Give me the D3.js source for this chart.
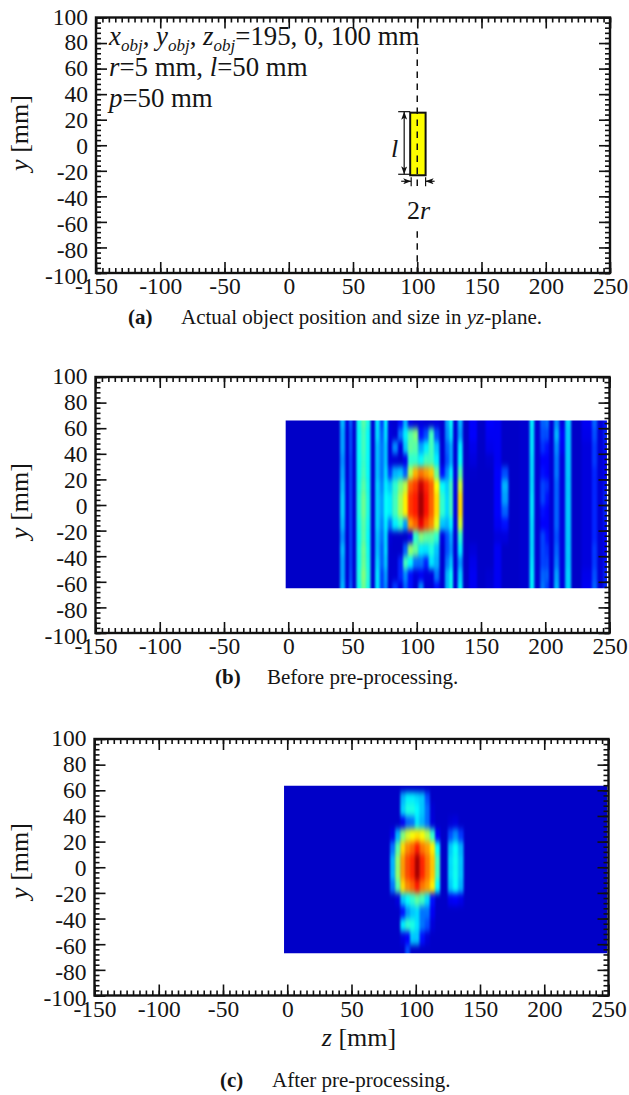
<!DOCTYPE html>
<html>
<head>
<meta charset="utf-8">
<script src="https://cdnjs.cloudflare.com/ajax/libs/d3/7.8.5/d3.min.js"></script>
<style>
  html, body { margin: 0; padding: 0; background: #fff; }
  svg { display: block; }
  text { font-family: "Liberation Serif", serif; fill: #151515; }
</style>
</head>
<body>
<svg id="chart" width="629" height="1095"></svg>
<script>
// axis values
const Z_DOMAIN = [-150, 250];
const Y_DOMAIN = [-100, 100];
const Z_MAJOR = d3.range(-150, 251, 50);
const Z_MINOR = d3.range(-150, 251, 5);
const Y_MAJOR = d3.range(-100, 101, 20);
const Y_MINOR = d3.range(-100, 101, 4);

// object in panel (a)
const OBJECT_Z = [94.5, 106.5];
const OBJECT_Y = [-23.5, 25.5];
const OBJECT_CENTER_Z = 100;

// heat map (b), one list per z column, top row first
const BEFORE_EXTENT_Z = [-2, 248];
const BEFORE_EXTENT_Y = [66, -65];
const BEFORE_ROWS = [65, 55, 45, 35, 25, 15, 5, -5, -15, -25, -35, -45, -55, -65];
const BEFORE_Z = [38, 42.5, 46.2, 48.5, 51.4, 54.7, 58.6, 62.5, 65.6, 69.5, 72.9, 76, 78.8, 83, 87.7, 91, 95, 99, 103.5, 107.2, 111.3, 115.5, 120, 123.9, 126.5, 130, 133.8, 137.7, 143.7, 150, 157, 163, 168.8, 174, 186, 189.6, 193.5, 198.7, 201.3, 204.6, 209, 213, 218, 222.4, 234, 238.6, 242.5, 247.8];
const BEFORE_VALUES = [
  [0, 0, 0, 0, 0, 0, 0, 0, 0, 0, 0, 0, 0, 0],
  [.3, .28, .28, .26, .28, .3, .32, .32, .3, .26, .3, .28, .28, .3],
  [.05, .03, .03, .03, .03, .05, .05, .05, .05, .03, .03, .03, .03, .05],
  [.22, .2, .2, .19, .19, .19, .19, .19, .19, .19, .19, .19, .2, .22],
  [.02, .02, .02, .02, .02, .02, .02, .02, .02, .02, .02, .02, .02, .02],
  [.39, .38, .38, .38, .38, .39, .4, .4, .39, .38, .39, .39, .4, .39],
  [.46, .44, .44, .43, .44, .46, .48, .48, .46, .46, .48, .48, .5, .48],
  [.4, .38, .38, .38, .38, .39, .4, .4, .39, .38, .39, .4, .41, .4],
  [.03, .03, .03, .03, .03, .03, .03, .03, .03, .03, .03, .03, .03, .03],
  [.35, .34, .31, .31, .31, .33, .33, .33, .33, .31, .31, .33, .35, .35],
  [.19, .22, .24, .24, .24, .26, .28, .28, .26, .24, .22, .22, .19, .19],
  [.37, .35, .32, .32, .34, .36, .38, .38, .36, .34, .34, .32, .28, .26],
  [.04, .05, .05, .05, .18, .32, .36, .36, .24, .04, .02, .02, .02, .02],
  [.02, .03, .26, .03, .3, .42, .44, .44, .36, .01, .01, .02, .03, .18],
  [.14, .24, .05, .01, .32, .5, .54, .54, .42, .01, .01, .16, .16, .06],
  [.3, .36, .32, .08, .22, .56, .64, .64, .28, 0, .22, .44, .26, .22],
  [.08, .46, .47, .42, .55, .78, .82, .82, .72, .1, .52, .37, .14, .14],
  [.03, .5, .46, .42, .7, .82, .85, .85, .78, .42, .48, .24, .05, .03],
  [.05, .14, .29, .38, .76, .95, 1, 1, .9, .5, .36, .24, .1, .26],
  [.03, .2, .36, .44, .72, .84, .86, .86, .8, .47, .35, .16, .05, .03],
  [.03, .44, .44, .44, .68, .78, .78, .78, .74, .46, .4, .35, .05, .03],
  [.05, .2, .32, .36, .48, .62, .66, .66, .6, .42, .32, .3, .24, .14],
  [.02, .02, .03, .03, .14, .38, .42, .42, .32, .06, .02, .02, .02, .02],
  [.28, .26, .22, .2, .26, .33, .34, .34, .3, .2, .2, .24, .3, .3],
  [.38, .35, .29, .29, .37, .44, .44, .44, .37, .29, .27, .32, .38, .39],
  [.03, .03, .03, .03, .05, .05, .05, .05, .05, .03, .03, .03, .03, .03],
  [.3, .28, .36, .38, .46, .58, .66, .66, .58, .42, .36, .27, .33, .36],
  [0, 0, 0, 0, 0, 0, 0, 0, 0, 0, 0, 0, 0, 0],
  [.12, .12, .08, .05, .01, 0, 0, 0, 0, 0, .04, .08, .1, .1],
  [0, 0, 0, 0, 0, 0, 0, 0, 0, 0, 0, 0, 0, 0],
  [.12, .1, .08, .02, 0, 0, 0, 0, 0, 0, 0, 0, .02, .03],
  [.1, .1, .1, .1, .12, .12, .12, .12, .1, .05, .1, .1, .1, .1],
  [0, 0, 0, 0, .2, .3, .28, .22, .14, .05, 0, 0, 0, 0],
  [0, 0, 0, 0, 0, 0, 0, 0, 0, 0, 0, 0, 0, 0],
  [.02, .02, .02, .02, .02, .02, .02, .02, .02, .02, .02, .02, .02, .02],
  [.36, .35, .35, .34, .34, .34, .35, .35, .34, .34, .34, .35, .36, .36],
  [.02, .02, .02, .02, .02, .02, .02, .02, .02, .02, .02, .02, .02, .02],
  [.22, .2, .17, .12, .14, .19, .19, .14, .12, .19, .19, .19, .22, .24],
  [.24, .2, .14, .12, .12, .17, .14, .12, .12, .14, .17, .19, .22, .19],
  [.03, .03, .03, .03, .03, .03, .03, .03, .03, .03, .03, .03, .03, .03],
  [.26, .3, .26, .24, .24, .22, .22, .22, .22, .2, .22, .24, .28, .3],
  [.05, .12, .1, .05, .05, .05, .05, .05, .05, .05, .05, .05, .05, .05],
  [.33, .32, .32, .32, .32, .32, .32, .32, .32, .32, .32, .32, .33, .33],
  [0, 0, 0, 0, 0, 0, 0, 0, 0, 0, 0, 0, 0, 0],
  [.1, .08, .05, .05, .05, .05, .05, .05, .05, .05, .05, .05, .08, .1],
  [.22, .2, .18, .18, .16, .16, .16, .16, .16, .16, .18, .18, .2, .22],
  [.03, .03, .03, .03, .03, .03, .03, .03, .03, .03, .03, .03, .03, .03],
  [.14, .16, .14, .12, .12, .14, .16, .16, .14, .12, .12, .14, .16, .16]
];

// heat map (c), same layout
const AFTER_EXTENT_Z = [-2.5, 249];
const AFTER_EXTENT_Y = [63.5, -67];
const AFTER_ROWS = [62, 55, 45, 35, 25, 15, 5, -5, -15, -25, -35, -45, -55, -66];
const AFTER_Z = [78, 82, 86, 90, 93.5, 97.5, 101, 105, 109, 113, 117, 121, 123.5, 126.5, 131, 135.5, 139];
const AFTER_VALUES = [
  [0, 0, 0, 0, 0, 0, 0, 0, 0, 0, 0, 0, 0, 0],
  [0, 0, 0, 0, .08, .24, .3, .3, .24, 0, 0, 0, 0, 0],
  [0, 0, 0, 0, .3, .46, .52, .52, .46, .05, 0, 0, 0, 0],
  [0, .3, .33, .1, .5, .66, .72, .72, .66, .32, .14, .36, .06, 0],
  [0, .36, .4, .22, .58, .74, .8, .8, .74, .38, .27, .42, .12, .2],
  [0, .36, .4, .24, .62, .78, .84, .84, .78, .42, .32, .4, .32, 0],
  [0, .34, .37, .35, .65, .85, 1, 1, .85, .47, .34, .35, .32, 0],
  [0, .32, .32, .3, .62, .76, .84, .84, .76, .44, .24, .24, .14, 0],
  [0, .2, .23, .23, .55, .72, .76, .76, .72, .34, .24, .2, .04, 0],
  [0, 0, .03, .04, .42, .64, .68, .68, .64, .14, .1, .04, 0, 0],
  [0, 0, 0, 0, .12, .38, .44, .44, .38, 0, 0, 0, 0, 0],
  [0, 0, 0, 0, 0, 0, 0, 0, 0, 0, 0, 0, 0, 0],
  [0, 0, 0, 0, 0, 0, 0, 0, 0, 0, 0, 0, 0, 0],
  [0, 0, 0, .03, .2, .32, .34, .34, .32, .1, 0, 0, 0, 0],
  [0, 0, 0, .05, .26, .38, .39, .39, .38, .12, 0, 0, 0, 0],
  [0, 0, 0, 0, .18, .3, .32, .32, .3, .08, 0, 0, 0, 0],
  [0, 0, 0, 0, 0, 0, 0, 0, 0, 0, 0, 0, 0, 0]
];

const svg = d3.select("#chart");
const defs = svg.append("defs");

const jet = d3.scaleLinear()
  .domain([0, 0.125, 0.375, 0.625, 0.875, 1])
  .range(["#0000c8", "#0000ff", "#00ffff", "#ffff00", "#ff0000", "#a80000"])
  .clamp(true);

// tick labels drift a little below their ticks toward the bottom of the axis
const labelDrop = d3.scaleLinear().domain([100, -100]).range([6.5, 10]);

defs.append("marker")
  .attr("id", "arrow")
  .attr("viewBox", "0 0 8 6")
  .attr("refX", 8)
  .attr("refY", 3)
  .attr("markerUnits", "userSpaceOnUse")
  .attr("markerWidth", 8)
  .attr("markerHeight", 6)
  .attr("orient", "auto-start-reverse")
  .append("path")
  .attr("d", "M0,0L8,3L0,6L2,3Z")
  .attr("fill", "#111");

function cellEdges(centers, extent) {
  const edges = [extent[0]];
  for (let i = 1; i < centers.length; i++) {
    edges.push((centers[i - 1] + centers[i]) / 2);
  }
  edges.push(extent[1]);
  return edges;
}

function drawHeat(g, id, x, y, extentZ, extentY, rows, columns, values) {
  const x0 = x(extentZ[0]);
  const x1 = x(extentZ[1]);
  const y0 = y(extentY[0]);
  const y1 = y(extentY[1]);
  const pad = 14;

  defs.append("filter")
    .attr("id", id)
    .attr("filterUnits", "userSpaceOnUse")
    .attr("x", x0 - pad)
    .attr("y", y0 - pad)
    .attr("width", x1 - x0 + 2 * pad)
    .attr("height", y1 - y0 + 2 * pad)
    .attr("color-interpolation-filters", "sRGB")
    .append("feGaussianBlur")
    .attr("stdDeviation", "1.1 3.2");

  defs.append("clipPath")
    .attr("id", id + "Clip")
    .append("rect")
    .attr("x", x0)
    .attr("y", y0)
    .attr("width", x1 - x0)
    .attr("height", y1 - y0);

  const zEdges = cellEdges(columns, extentZ);
  const yEdges = cellEdges(rows, extentY);
  const cells = g.append("g")
    .attr("clip-path", `url(#${id}Clip)`)
    .append("g")
    .attr("class", "heat")
    .attr("filter", `url(#${id})`);

  // base fill runs past the clip so the blur keeps a hard outer edge
  cells.append("rect")
    .attr("x", x0 - pad)
    .attr("y", y0 - pad)
    .attr("width", x1 - x0 + 2 * pad)
    .attr("height", y1 - y0 + 2 * pad)
    .attr("fill", jet(0));

  columns.forEach((z, col) => {
    rows.forEach((row, r) => {
      const top = r === 0 ? y0 - pad : y(yEdges[r]);
      const bot = r === rows.length - 1 ? y1 + pad : y(yEdges[r + 1]);
      cells.append("rect")
        .attr("x", x(zEdges[col]))
        .attr("y", top)
        .attr("width", x(zEdges[col + 1]) - x(zEdges[col]) + 0.3)
        .attr("height", bot - top + 0.3)
        .attr("fill", jet(values[col][r]));
    });
  });
}

function styleAxis(a, fontSize) {
  a.select(".domain").remove();
  a.selectAll("line").attr("stroke", "#111").attr("stroke-width", 1.6);
  a.selectAll("text").attr("font-size", fontSize).attr("font-family", "Liberation Serif").attr("fill", "#151515");
}

function drawAxes(g, x, y, left, top, right, bottom) {
  const sides = [
    { axis: d3.axisBottom(x), tr: `translate(0,${bottom})`, minor: Z_MINOR, major: Z_MAJOR, kind: "bottom" },
    { axis: d3.axisTop(x), tr: `translate(0,${top})`, minor: Z_MINOR, major: Z_MAJOR, kind: "" },
    { axis: d3.axisLeft(y), tr: `translate(${left},0)`, minor: Y_MINOR, major: Y_MAJOR, kind: "left" },
    { axis: d3.axisRight(y), tr: `translate(${right},0)`, minor: Y_MINOR, major: Y_MAJOR, kind: "" }
  ];
  sides.forEach((s) => {
    const minor = g.append("g").attr("transform", s.tr)
      .call(s.axis.tickValues(s.minor).tickSize(-5).tickFormat(""));
    styleAxis(minor, 23);

    const major = g.append("g").attr("transform", s.tr)
      .call(s.axis.tickValues(s.major).tickSize(-11).tickPadding(0)
        .tickFormat(s.kind ? d3.format("d") : ""));
    styleAxis(major, 23.5);
    major.selectAll("text").text((d) => (s.kind ? String(d) : ""));
    if (s.kind === "bottom") {
      major.selectAll("text").attr("y", 21).attr("dy", 0);
    }
    if (s.kind === "left") {
      major.selectAll("text").attr("x", -8).attr("dy", 0).attr("y", (d) => labelDrop(d));
    }
  });

  g.append("rect")
    .attr("x", left)
    .attr("y", top)
    .attr("width", right - left)
    .attr("height", bottom - top)
    .attr("fill", "none")
    .attr("stroke", "#111")
    .attr("stroke-width", 2.4);
}

function drawPanel(left, top, right, bottom) {
  const x = d3.scaleLinear().domain(Z_DOMAIN).range([left, right]);
  const y = d3.scaleLinear().domain(Y_DOMAIN).range([bottom, top]);
  const g = svg.append("g");
  return { g, x, y, left, top, right, bottom };
}

function yLabel(g, cx, cy) {
  const t = g.append("text")
    .attr("transform", `translate(${cx},${cy}) rotate(-90)`)
    .attr("text-anchor", "middle")
    .attr("font-size", 26);
  t.append("tspan").attr("font-style", "italic").text("y");
  t.append("tspan").text(" [mm]");
}

function caption(tag, tagX, textX, baseline, parts) {
  svg.append("text")
    .attr("x", tagX).attr("y", baseline)
    .attr("font-size", 21).attr("font-weight", "bold")
    .text(tag);
  const t = svg.append("text").attr("x", textX).attr("y", baseline).attr("font-size", 21);
  parts.forEach(([s, italic]) => {
    t.append("tspan").attr("font-style", italic ? "italic" : "normal").text(s);
  });
}

// parts are [text, italic, subscript]
function richLine(g, px, py, parts, size) {
  const t = g.append("text").attr("x", px).attr("y", py).attr("font-size", size || 26.8);
  let wasSub = false;
  parts.forEach(([s, italic, sub]) => {
    const span = t.append("tspan").attr("font-style", italic ? "italic" : "normal").text(s);
    if (sub) span.attr("font-size", 17).attr("dy", 6);
    else if (wasSub) span.attr("dy", -6);
    wasSub = !!sub;
  });
}

// panel (a)
const a = drawPanel(96, 17.5, 610, 273);
drawAxes(a.g, a.x, a.y, a.left, a.top, a.right, a.bottom);
yLabel(a.g, 28, 133);

a.g.append("rect")
  .attr("x", a.x(OBJECT_Z[0]))
  .attr("y", a.y(OBJECT_Y[1]))
  .attr("width", a.x(OBJECT_Z[1]) - a.x(OBJECT_Z[0]))
  .attr("height", a.y(OBJECT_Y[0]) - a.y(OBJECT_Y[1]))
  .attr("fill", "#ffff00")
  .attr("stroke", "#111")
  .attr("stroke-width", 2);

const centerX = a.x(OBJECT_CENTER_Z);
[[a.top + 30, a.y(OBJECT_Y[0]) + 13], [a.y(OBJECT_Y[0]) + 56, a.bottom]].forEach(([y1, y2]) => {
  a.g.append("line")
    .attr("x1", centerX).attr("x2", centerX)
    .attr("y1", y1).attr("y2", y2)
    .attr("stroke", "#111")
    .attr("stroke-width", 1.5)
    .attr("stroke-dasharray", "6.5 5.5");
});

const dimTop = a.y(OBJECT_Y[1]) - 1;
const dimBottom = a.y(OBJECT_Y[0]) - 1;
const objLeft = a.x(OBJECT_Z[0]);
const objRight = a.x(OBJECT_Z[1]);
[[objLeft - 12, objLeft, dimTop, dimTop], [objLeft - 12, objLeft, dimBottom, dimBottom],
 [objLeft + 1, objLeft + 1, dimBottom + 3, dimBottom + 12], [objRight, objRight, dimBottom + 3, dimBottom + 12]
].forEach(([x1, x2, y1, y2]) => {
  a.g.append("line").attr("x1", x1).attr("x2", x2).attr("y1", y1).attr("y2", y2)
    .attr("stroke", "#111").attr("stroke-width", 1.2);
});
a.g.append("line")
  .attr("x1", objLeft - 6).attr("x2", objLeft - 6)
  .attr("y1", dimTop).attr("y2", dimBottom)
  .attr("stroke", "#111").attr("stroke-width", 1.2)
  .attr("marker-start", "url(#arrow)").attr("marker-end", "url(#arrow)");
a.g.append("line")
  .attr("x1", objLeft - 9).attr("x2", objLeft + 1)
  .attr("y1", dimBottom + 7).attr("y2", dimBottom + 7)
  .attr("stroke", "#111").attr("stroke-width", 1.2)
  .attr("marker-end", "url(#arrow)");
a.g.append("line")
  .attr("x1", objRight + 9).attr("x2", objRight)
  .attr("y1", dimBottom + 7).attr("y2", dimBottom + 7)
  .attr("stroke", "#111").attr("stroke-width", 1.2)
  .attr("marker-end", "url(#arrow)");

richLine(a.g, 109, 45, [["x", true], ["obj", true, true], [", ", false], ["y", true], ["obj", true, true], [", ", false], ["z", true], ["obj", true, true], ["=195, 0, 100 mm", false]]);
richLine(a.g, 109, 76, [["r", true], ["=5 mm, ", false], ["l", true], ["=50 mm", false]]);
richLine(a.g, 109, 107, [["p", true], ["=50 mm", false]]);
richLine(a.g, 391, 157, [["l", true]], 26);
richLine(a.g, 407, 219, [["2", false], ["r", true]], 26);

caption("(a)", 128, 181, 324, [["Actual object position and size in ", false], ["yz", true], ["-plane.", false]]);

// panel (b)
const b = drawPanel(95.5, 377, 609.5, 633);
drawHeat(b.g, "blurB", b.x, b.y, BEFORE_EXTENT_Z, BEFORE_EXTENT_Y, BEFORE_ROWS, BEFORE_Z, BEFORE_VALUES);
drawAxes(b.g, b.x, b.y, b.left, b.top, b.right, b.bottom);
yLabel(b.g, 28, 501);
caption("(b)", 215, 267, 684, [["Before pre-processing.", false]]);

// panel (c)
const c = drawPanel(94.5, 739, 608.5, 995.5);
drawHeat(c.g, "blurC", c.x, c.y, AFTER_EXTENT_Z, AFTER_EXTENT_Y, AFTER_ROWS, AFTER_Z, AFTER_VALUES);
drawAxes(c.g, c.x, c.y, c.left, c.top, c.right, c.bottom);
yLabel(c.g, 28, 861);

const zLabel = c.g.append("text")
  .attr("x", 359)
  .attr("y", 1046)
  .attr("text-anchor", "middle")
  .attr("font-size", 26);
zLabel.append("tspan").attr("font-style", "italic").text("z");
zLabel.append("tspan").text(" [mm]");

caption("(c)", 220, 272, 1087, [["After pre-processing.", false]]);
</script>
</body>
</html>
